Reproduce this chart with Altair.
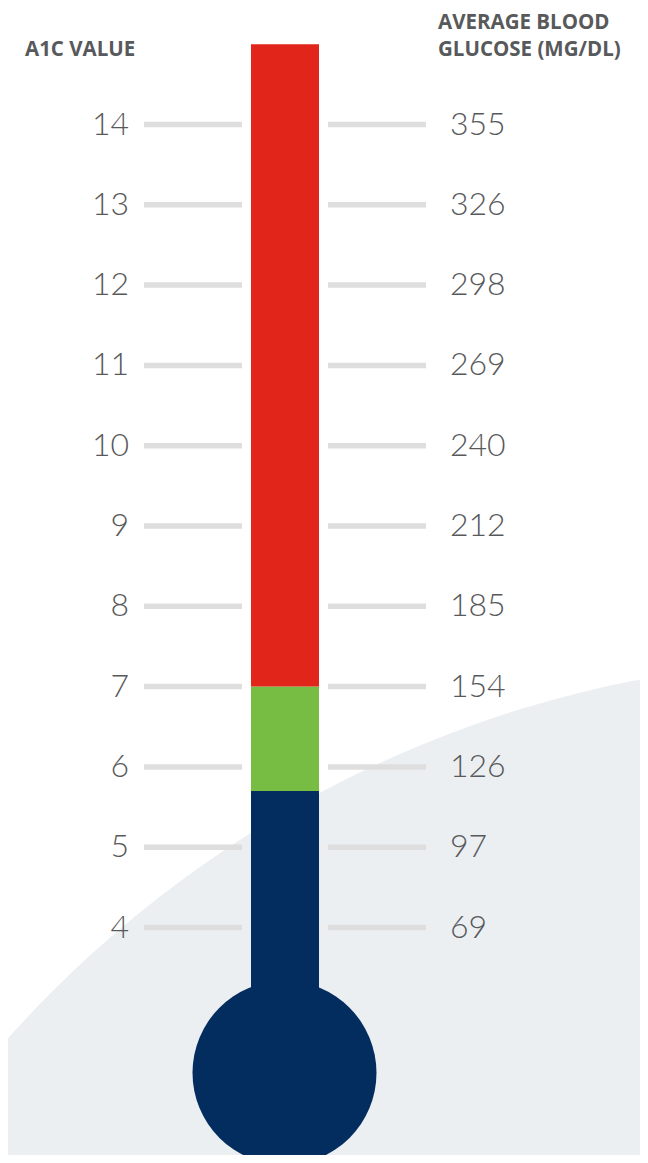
import altair as alt
import pandas as pd

# ---- data ----
a1c_values = [4, 5, 6, 7, 8, 9, 10, 11, 12, 13, 14]
glucose_values = [69, 97, 126, 154, 185, 212, 240, 269, 298, 326, 355]

zone_names = ["below", "target", "above"]
zone_start = [2.19, 5.7, 7.0]
zone_end = [5.7, 7.0, 15.0]
zone_colors = ["#022D5E", "#77BC43", "#E1251B"]

bulb_value = [2.19]

# ---- tables ----
ticks = pd.DataFrame({"a1c": a1c_values, "glucose": glucose_values})
zones = pd.DataFrame({"zone": zone_names, "start": zone_start, "end": zone_end, "color": zone_colors})
bulb = pd.DataFrame({"a1c": bulb_value})
one = pd.DataFrame({"k": [0]})

W, H = 632, 1147
yscale = alt.Scale(domain=[1.167, 15.451], nice=False, zero=False)
Y = lambda f: alt.Y(f, type="quantitative", scale=yscale, axis=None)

TEXT = "#58595B"
NAVY = "#022D5E"

bg = alt.Chart(one).mark_circle(color="#ECEFF2", opacity=1, size=2266 ** 2, clip=True).encode(
    x=alt.value(846), y=alt.value(1784)
)

left_ticks = alt.Chart(ticks).mark_rule(color="#DEDEDE", strokeWidth=5.5).encode(
    y=Y("a1c"), x=alt.value(136), x2=alt.value(234)
)
right_ticks = alt.Chart(ticks).mark_rule(color="#DEDEDE", strokeWidth=5.5).encode(
    y=Y("a1c"), x=alt.value(320), x2=alt.value(418)
)

bars = alt.Chart(zones).mark_bar().encode(
    y=Y("start"), y2="end", x=alt.value(243), x2=alt.value(311),
    color=alt.Color("color:N", scale=None, legend=None),
)

bulb_mark = alt.Chart(bulb).mark_circle(color=NAVY, opacity=1, size=184 ** 2).encode(
    y=Y("a1c"), x=alt.value(276.5)
)

left_labels = alt.Chart(ticks).mark_text(
    align="right", baseline="middle", font="Lato", fontWeight=300, fontSize=32, color=TEXT
).encode(y=Y("a1c"), x=alt.value(121), text="a1c:Q")

right_labels = alt.Chart(ticks).mark_text(
    align="left", baseline="middle", font="Lato", fontWeight=300, fontSize=32, color=TEXT
).encode(y=Y("a1c"), x=alt.value(442), text="glucose:Q")

hdr_style = dict(align="left", baseline="alphabetic", font="Open Sans", fontWeight="bold",
                 fontSize=20.5, color=TEXT)

hdr_left = alt.Chart(one).mark_text(text="A1C VALUE", **hdr_style).encode(
    x=alt.value(17), y=alt.value(48))
hdr_right1 = alt.Chart(one).mark_text(text="AVERAGE BLOOD", **hdr_style).encode(
    x=alt.value(430), y=alt.value(21))
hdr_right2 = alt.Chart(one).mark_text(text="GLUCOSE (MG/DL)", **hdr_style).encode(
    x=alt.value(430), y=alt.value(48))

chart = alt.layer(
    bg, left_ticks, right_ticks, bars, bulb_mark, left_labels, right_labels,
    hdr_left, hdr_right1, hdr_right2
).properties(
    width=W, height=H, autosize=alt.AutoSizeParams(type="none"), padding=0
).configure_view(stroke=None)

chart.save("out.html", embed_options={"renderer": "svg", "actions": False})
